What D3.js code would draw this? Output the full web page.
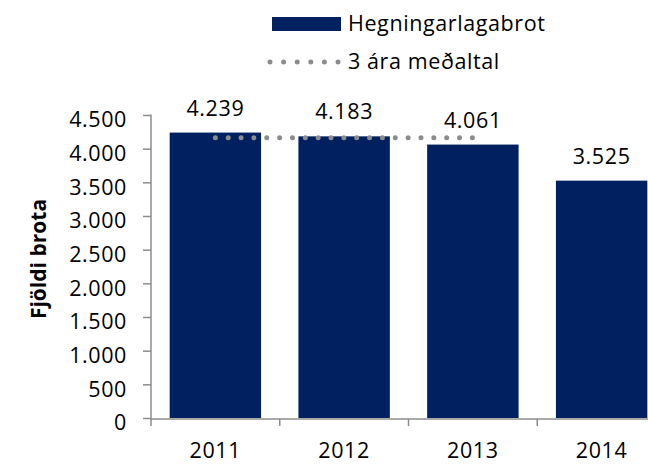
<!DOCTYPE html>
<html>
    <head>
       <meta charset="utf-8">
       <script src="https://d3js.org/d3.v7.min.js"></script>
        <style>
        body { margin: 0; background: #fff; }
        text { font-family: "Open Sans", Lato, sans-serif; fill: #000; }
        </style>
    </head>
<body>
    <div id="svgContainer"></div>

<script>
// data
var years = ["2011", "2012", "2013", "2014"];
var offences = [4239, 4183, 4061, 3525];
var avgYears = ["2011", "2012", "2013"];
var avgValue = [4161, 4161, 4161];
var yTicks = [0, 500, 1000, 1500, 2000, 2500, 3000, 3500, 4000, 4500];
var seriesNames = ["Hegningarlagabrot", "3 ára meðaltal"];
var yTitle = "Fjöldi brota";

var width = 648;
var height = 465;
var plotLeft = 151;
var plotRight = 666;
var plotTop = 115;
var plotBottom = 418;
var fontSize = 21.5;
var spacing = 0.6;
var barColor = "#002060";
var axisColor = "#8c8c8c";
var dotColor = "#8c8c8c";

var svg = d3.select("#svgContainer")
        .append("svg")
        .attr("width", width)
        .attr("height", height);

var x = d3.scaleBand()
        .domain(years)
        .range([plotLeft, plotRight]);

var y = d3.scaleLinear()
        .domain([0, 4500])
        .range([plotBottom, plotTop]);

var barW = x.bandwidth() * 0.71;
var fmt = function(v) { return d3.format(",")(v).replace(/,/g, "."); };

drawBars(svg);
drawAverage(svg);
drawAxes(svg);
drawLegend(svg);

function drawBars(svg) {
    svg.append("g")
        .selectAll("rect")
        .data(years)
        .enter().append("rect")
        .attr("x", (d) => x(d) + (x.bandwidth() - barW) / 2)
        .attr("y", (d, i) => y(offences[i]))
        .attr("width", barW)
        .attr("height", (d, i) => y(0) - y(offences[i]))
        .attr("fill", barColor);

    svg.append("g")
        .selectAll("text")
        .data(years)
        .enter().append("text")
        .attr("x", (d) => x(d) + x.bandwidth() / 2)
        .attr("y", (d, i) => y(offences[i]) - 17)
        .attr("text-anchor", "middle")
        .attr("font-size", fontSize)
        .attr("letter-spacing", spacing)
        .text((d, i) => fmt(offences[i]));
}

function drawAverage(svg) {
    var line = d3.line()
        .x((d, i) => x(avgYears[i]) + x.bandwidth() / 2)
        .y((d) => y(d));

    svg.append("path")
        .datum(avgValue)
        .attr("d", line)
        .attr("fill", "none")
        .attr("stroke", dotColor)
        .attr("stroke-width", 5)
        .attr("stroke-linecap", "round")
        .attr("stroke-dasharray", "0 12.85");
}

function drawAxes(svg) {
    var yAxis = d3.axisLeft(y)
        .tickValues(yTicks)
        .tickSize(8)
        .tickPadding(16)
        .tickFormat(fmt);

    var gy = svg.append("g")
        .attr("transform", "translate(" + plotLeft + ",0)")
        .call(yAxis);
    gy.select(".domain").attr("stroke", axisColor).attr("stroke-width", 1.5)
        .attr("d", "M0," + (plotTop - 0.5) + "V" + (plotBottom + 1));
    gy.selectAll(".tick line").attr("stroke", axisColor).attr("stroke-width", 1.5);
    gy.selectAll(".tick text")
        .attr("font-size", fontSize)
        .attr("font-family", "Open Sans")
        .attr("letter-spacing", spacing)
        .attr("dy", "0.55em");

    // category boundary ticks
    var bounds = years.map((d) => x(d)).concat([plotRight]);
    svg.append("line")
        .attr("x1", plotLeft).attr("x2", plotRight)
        .attr("y1", plotBottom + 1).attr("y2", plotBottom + 1)
        .attr("stroke", axisColor).attr("stroke-width", 1.5);
    svg.append("g")
        .selectAll("line")
        .data(bounds)
        .enter().append("line")
        .attr("x1", (d) => d).attr("x2", (d) => d)
        .attr("y1", plotBottom + 1).attr("y2", plotBottom + 8)
        .attr("stroke", axisColor).attr("stroke-width", 1.5);

    svg.append("g")
        .selectAll("text")
        .data(years)
        .enter().append("text")
        .attr("x", (d) => x(d) + x.bandwidth() / 2)
        .attr("y", 458)
        .attr("text-anchor", "middle")
        .attr("font-size", fontSize)
        .attr("letter-spacing", spacing)
        .text((d) => d);

    svg.append("text")
        .attr("transform", "translate(46,259) rotate(-90)")
        .attr("text-anchor", "middle")
        .attr("font-size", 21)
        .attr("font-weight", "bold")
        .text(yTitle);
}

function drawLegend(svg) {
    var g = svg.append("g");
    g.append("rect")
        .attr("x", 272).attr("y", 17)
        .attr("width", 69).attr("height", 14)
        .attr("fill", barColor);
    g.append("text")
        .attr("x", 348).attr("y", 31)
        .attr("font-size", fontSize)
        .attr("letter-spacing", spacing)
        .text(seriesNames[0]);

    g.append("line")
        .attr("x1", 270).attr("x2", 338.5)
        .attr("y1", 62).attr("y2", 62)
        .attr("stroke", dotColor)
        .attr("stroke-width", 5)
        .attr("stroke-linecap", "round")
        .attr("stroke-dasharray", "0 13.6");
    g.append("text")
        .attr("x", 348).attr("y", 69)
        .attr("font-size", fontSize)
        .attr("letter-spacing", spacing)
        .text(seriesNames[1]);
}
</script>
</body>
</html>
